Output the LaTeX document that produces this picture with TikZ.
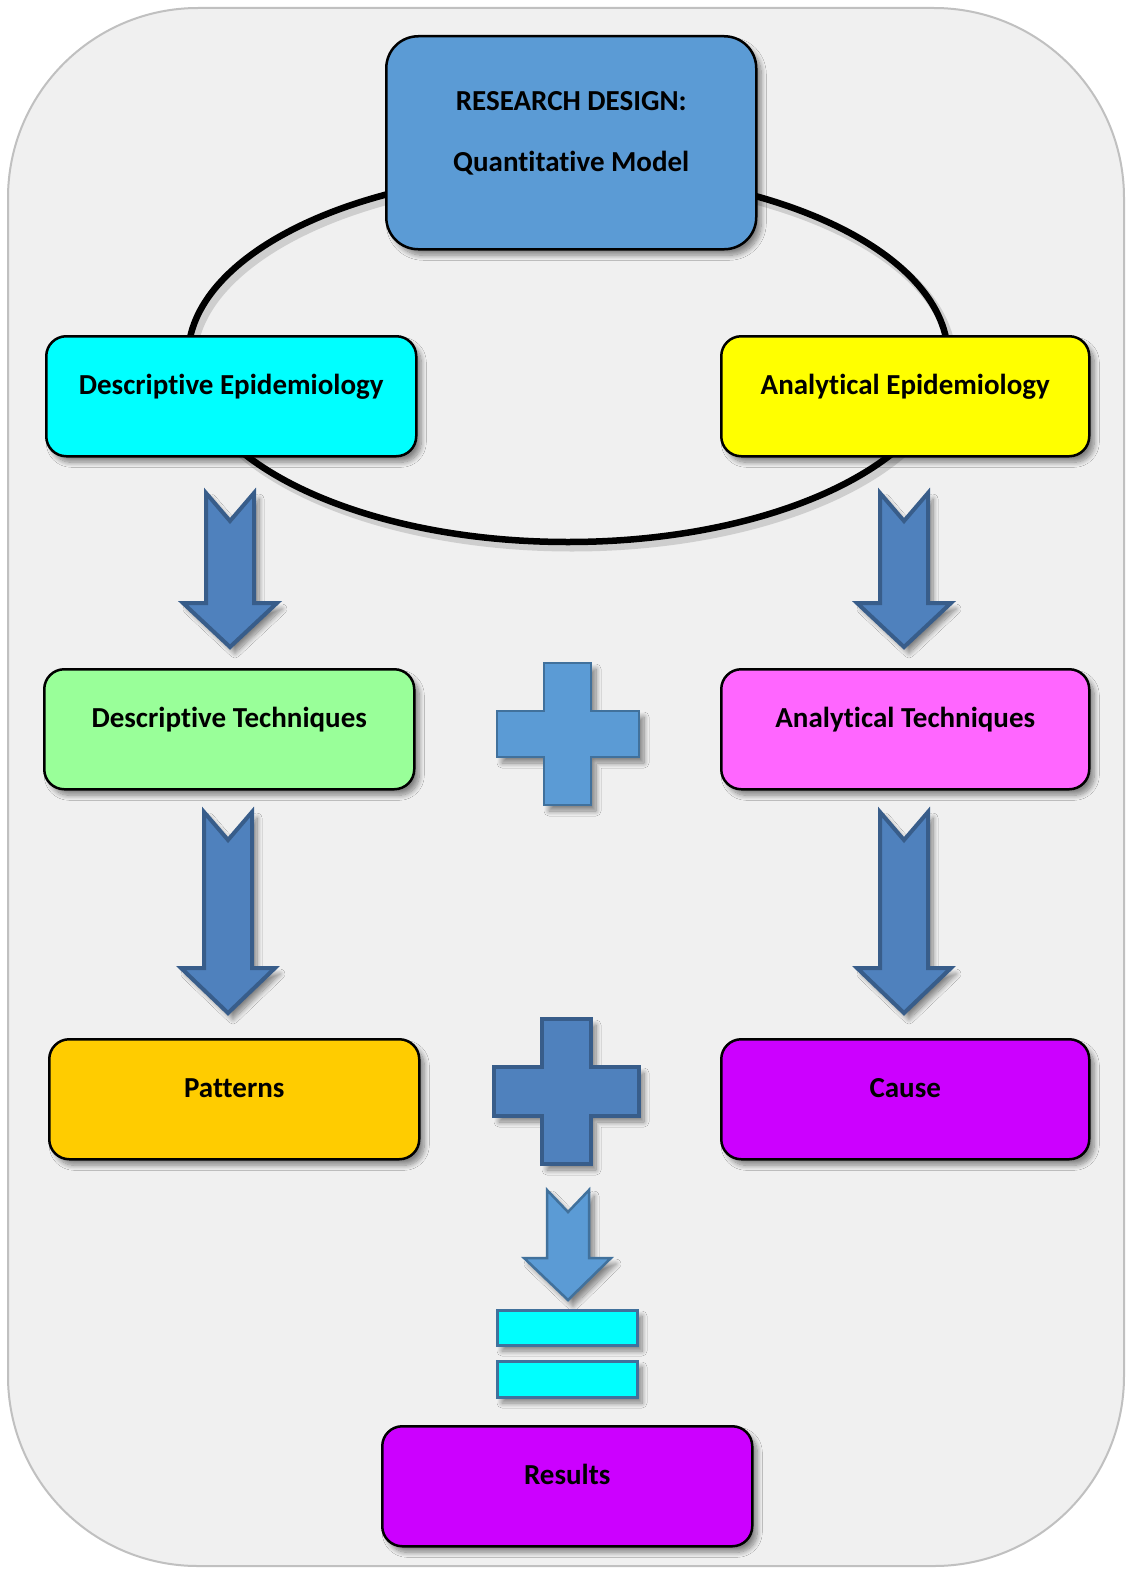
\documentclass[tikz,border=0pt]{standalone}
\usepackage{fontspec}
\setmainfont{Carlito}[Ligatures=NoCommon]
\usetikzlibrary{shadows.blur}
\definecolor{bgfill}{HTML}{F0F0F0}
\definecolor{bgline}{HTML}{C0C0C0}
\definecolor{topblue}{HTML}{5B9BD5}
\definecolor{litline}{HTML}{41719C}
\definecolor{darkfill}{HTML}{4F81BD}
\definecolor{darkline}{HTML}{385D8A}
\definecolor{cyanbox}{HTML}{00FFFF}
\definecolor{yellowbox}{HTML}{FFFF00}
\definecolor{greenbox}{HTML}{99FF99}
\definecolor{pinkbox}{HTML}{FF66FF}
\definecolor{amberbox}{HTML}{FFCC00}
\definecolor{purplebox}{HTML}{CC00FF}
\tikzset{
  myshadow/.style={blur shadow={shadow xshift=5pt, shadow yshift=-6pt, shadow blur radius=5pt, shadow blur steps=10, shadow opacity=45}},
  stagebox/.style={draw=black, line width=2.5pt, rounded corners=20pt, anchor=north west,
    inner sep=0pt, minimum width=370pt, text height=58pt, text depth=62pt,
    font=\fontsize{29}{32}\selectfont\bfseries, myshadow},
  bigarrow/.style={fill=darkfill, draw=darkline, line width=4pt, line join=miter, myshadow},
  litshape/.style={fill=topblue, draw=litline, line width=2.5pt, line join=miter, myshadow},
  eqbar/.style={fill=cyanbox, draw=litline, line width=3pt, myshadow},
}
\begin{document}
\begin{tikzpicture}[x=1pt, y=-1pt]
\useasboundingbox (0,0) rectangle (1131,1571);
\fill[white] (0,0) rectangle (1131,1571);
\draw[fill=bgfill, draw=bgline, line width=2pt, rounded corners=190pt] (8,8) rectangle (1124,1566);

% ellipse with soft shadow
\draw[gray, opacity=0.3, line width=9pt] (572,362) ellipse [x radius=380, y radius=185];
\draw[black, line width=6.5pt] (568,357) ellipse [x radius=380, y radius=185];

% boxes
\node[stagebox, fill=topblue, rounded corners=32pt, minimum width=370pt, text width=370pt, align=flush center,
  text height=74pt, text depth=139pt, font=\fontsize{29}{61}\selectfont\bfseries]
  (design) at (385,35) {RESEARCH DESIGN:\\Quantitative Model};
\node[stagebox, fill=cyanbox] (descepi) at (45,335) {Descriptive Epidemiology};
\node[stagebox, fill=yellowbox, minimum width=368pt] (anaepi) at (720,335) {Analytical Epidemiology};
\node[stagebox, fill=greenbox] (desctech) at (43,668) {Descriptive Techniques};
\node[stagebox, fill=pinkbox, minimum width=368pt] (anatech) at (720,668) {Analytical Techniques};
\node[stagebox, fill=amberbox] (patterns) at (48,1038) {Patterns};
\node[stagebox, fill=purplebox, minimum width=368pt] (cause) at (720,1038) {Cause};
\node[stagebox, fill=purplebox] (results) at (381,1425) {Results};

% block arrows (top row)
\draw[bigarrow] (206,493) -- (230,521) -- (254,493) -- (254,603) -- (277,603) -- (230,647) -- (183,603) -- (206,603) -- cycle;
\draw[bigarrow] (880,493) -- (904,521) -- (928,493) -- (928,603) -- (951,603) -- (904,647) -- (857,603) -- (880,603) -- cycle;
% block arrows (second row)
\draw[bigarrow] (204,812) -- (228,840) -- (252,812) -- (252,968) -- (275,968) -- (228,1013) -- (181,968) -- (204,968) -- cycle;
\draw[bigarrow] (880,812) -- (904,840) -- (928,812) -- (928,968) -- (951,968) -- (904,1013) -- (857,968) -- (880,968) -- cycle;

% plus signs
\draw[litshape] (544,663) -- (591,663) -- (591,711) -- (639,711) -- (639,757) -- (591,757) -- (591,805) -- (544,805) -- (544,757) -- (497,757) -- (497,711) -- (544,711) -- cycle;
\draw[bigarrow] (542,1019) -- (591,1019) -- (591,1067) -- (639,1067) -- (639,1116) -- (591,1116) -- (591,1164) -- (542,1164) -- (542,1116) -- (494,1116) -- (494,1067) -- (542,1067) -- cycle;

% small arrow
\draw[litshape] (547,1190) -- (568,1212) -- (589,1190) -- (589,1258) -- (611,1258) -- (568,1300) -- (524,1258) -- (547,1258) -- cycle;

% equals
\draw[eqbar] (497,1310) rectangle (637,1345);
\draw[eqbar] (497,1361) rectangle (637,1397);
\end{tikzpicture}
\end{document}
